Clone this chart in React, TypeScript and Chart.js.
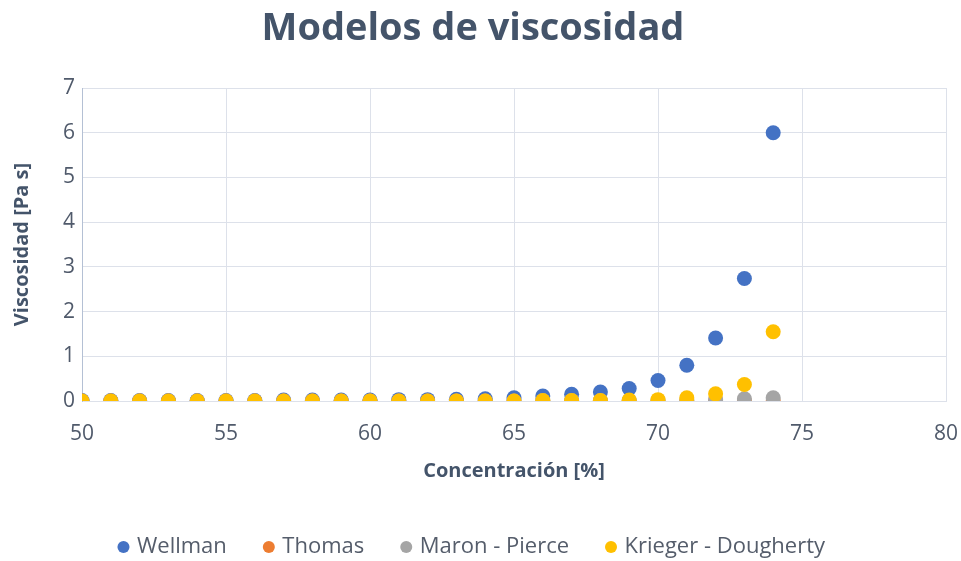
import React, { useEffect, useRef } from "react";
import { Chart, registerables } from "chart.js";

Chart.register(...registerables);

const concentration = [50, 51, 52, 53, 54, 55, 56, 57, 58, 59, 60, 61, 62, 63, 64, 65, 66, 67, 68, 69, 70, 71, 72, 73, 74];
const wellman = [0.01, 0.01, 0.01, 0.01, 0.01, 0.01, 0.01, 0.02, 0.02, 0.02, 0.02, 0.03, 0.03, 0.04, 0.05, 0.07, 0.11, 0.15, 0.2, 0.28, 0.46, 0.8, 1.41, 2.74, 6.0];
const thomas = [0, 0, 0, 0, 0, 0, 0, 0, 0, 0, 0, 0, 0, 0, 0, 0, 0, 0, 0, 0, 0, 0, 0, 0, 0];
const maronPierce = [0, 0, 0, 0, 0, 0, 0, 0, 0, 0, 0, 0, 0, 0, 0, 0, 0.01, 0.01, 0.01, 0.01, 0.01, 0.02, 0.03, 0.05, 0.07];
const kriegerDougherty = [0, 0, 0, 0, 0, 0, 0, 0, 0, 0, 0, 0, 0, 0, 0, 0, 0.01, 0.01, 0.01, 0.02, 0.03, 0.07, 0.16, 0.37, 1.55];

const seriesNames = ["Wellman", "Thomas", "Maron - Pierce", "Krieger - Dougherty"];
const seriesColors = ["#4472c4", "#ed7d31", "#a5a5a5", "#ffc000"];

const toPoints = (vals: number[]) => concentration.map((x, i) => ({ x, y: vals[i] }));

export default function App() {
  const ref = useRef<HTMLCanvasElement>(null);
  useEffect(() => {
    if (!ref.current) return;
    const all = [wellman, thomas, maronPierce, kriegerDougherty];
    const chart = new Chart(ref.current, {
      type: "scatter",
      data: {
        datasets: all.map((vals, i) => ({
          label: seriesNames[i],
          data: toPoints(vals),
          backgroundColor: seriesColors[i],
          borderColor: seriesColors[i],
          pointRadius: 7.5,
          pointHoverRadius: 7.5,
          borderWidth: 0,
          order: 4 - i,
        })),
      },
      options: {
        animation: false,
        responsive: false,
        layout: { padding: { left: 0, right: 15, top: 0, bottom: 0 } },
        plugins: {
          title: {
            display: true,
            text: "Modelos de viscosidad",
            color: "#44546a",
            font: { family: "Open Sans", size: 38, weight: "bold" },
            padding: { top: 6, bottom: 36.4 },
          },
          legend: {
            position: "bottom",
            maxHeight: 64.5,
            labels: {
              usePointStyle: true,
              pointStyle: "circle",
              boxWidth: 5,
              boxHeight: 8.5,
              padding: 39.5,
              color: "#555d6b",
              font: { family: "Open Sans", size: 22 },
              sort: (a: any, b: any) => a.datasetIndex - b.datasetIndex,
            },
          },
          tooltip: { enabled: false },
        },
        scales: {
          x: {
            type: "linear",
            min: 50,
            max: 80,
            ticks: { stepSize: 5, color: "#505a6b", font: { family: "Open Sans", size: 21 }, padding: 0 },
            grid: { color: "#dde1ea", drawTicks: true, tickLength: 20, tickColor: "rgba(0,0,0,0)" },
            border: { color: "#dde1ea" },
            title: {
              display: true,
              text: "Concentración [%]",
              color: "#44546a",
              font: { family: "Open Sans", size: 20, weight: "bold" },
              padding: { top: 12.8, bottom: 13.5 },
            },
          },
          y: {
            type: "linear",
            min: 0,
            max: 7,
            ticks: { stepSize: 1, color: "#505a6b", font: { family: "Open Sans", size: 21 }, padding: 7 },
            grid: { color: "#dde1ea", drawTicks: false },
            border: { color: "#b4c0d4" },
            title: {
              display: true,
              text: "Viscosidad [Pa s]",
              color: "#44546a",
              font: { family: "Open Sans", size: 20, weight: "bold" },
              padding: { top: 10, bottom: 22 },
            },
          },
        },
      },
    });
    return () => chart.destroy();
  }, []);
  return (
    <div style={{ position: "fixed", left: 0, top: 0, width: 961, height: 561, background: "#fff" }}>
      <canvas ref={ref} width={961} height={561} style={{ display: "block" }} />
    </div>
  );
}
